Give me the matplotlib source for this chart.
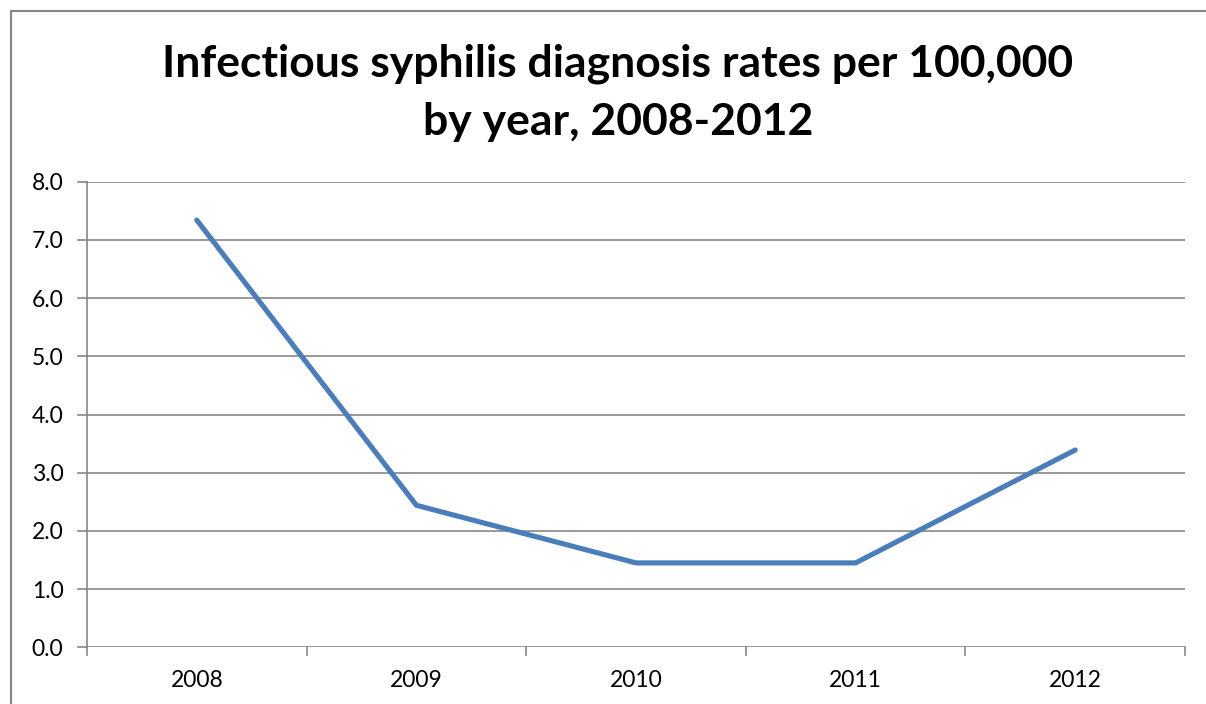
import matplotlib
matplotlib.use("Agg")
import matplotlib.pyplot as plt
from matplotlib.patches import Rectangle

years = ["2008", "2009", "2010", "2011", "2012"]
rates = [7.34, 2.44, 1.45, 1.45, 3.39]
yticks = [0.0, 1.0, 2.0, 3.0, 4.0, 5.0, 6.0, 7.0, 8.0]

plt.rcParams['font.family'] = ['Lato', 'DejaVu Sans']

W, H = 1206, 704
fig = plt.figure(figsize=(W/100, H/100), dpi=100)
ax = fig.add_axes([87/W, 1-647.3/H, (1185-87)/W, (647.3-181.7)/H])

x = list(range(len(years)))
ax.plot(x, rates, color='#4A7EBB', lw=3.7, solid_capstyle='round', solid_joinstyle='miter', zorder=3)
ax.set_xlim(-0.5, len(years)-0.5)
ax.set_ylim(0, 8)
ax.set_yticks(yticks)
ax.set_yticklabels([f"{v:.1f}" for v in yticks], fontsize=16.5)
ax.set_xticks(x)
ax.set_xticklabels(years, fontsize=16.5)
ax.tick_params(axis='x', length=0, pad=16)
ax.tick_params(axis='y', length=0, pad=17)
for v in yticks:
    ax.axhline(v, color='#868686', lw=1.2, zorder=1)
    ax.plot([-0.5 - 9/219.6, -0.5], [v, v], color='#868686', lw=1.2, clip_on=False)
for b in [i - 0.5 for i in range(len(years)+1)]:
    ax.plot([b, b], [0, -8*8/465.6], color='#868686', lw=1.2, clip_on=False)
for s in ['top', 'right', 'bottom']:
    ax.spines[s].set_visible(False)
ax.spines['left'].set_color('#868686')
ax.spines['left'].set_linewidth(1.2)

fig.text(618/W, 1-64/H, "Infectious syphilis diagnosis rates per 100,000", ha='center', va='center',
         fontsize=32, fontweight='bold')
fig.text(618/W, 1-122/H, "by year, 2008-2012", ha='center', va='center', fontsize=32, fontweight='bold')

fig.patches.append(Rectangle((11/W, -0.05), 1.2, 1.05 - 11/H, transform=fig.transFigure,
                             fill=False, edgecolor='#868686', lw=1.5))
fig.savefig("out.png", dpi=100)
